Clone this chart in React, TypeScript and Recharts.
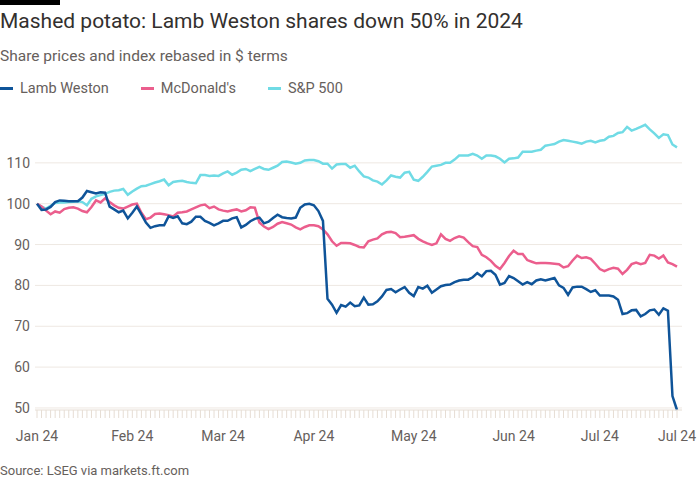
import React from 'react';
import { LineChart, Line, XAxis, YAxis, CartesianGrid } from 'recharts';

// Trading days, Jan 2 to Jul 25 2024
const dates = [
  '01-02', '01-03', '01-04', '01-05', '01-08', '01-09', '01-10', '01-11', '01-12', '01-16',
  '01-17', '01-18', '01-19', '01-22', '01-23', '01-24', '01-25', '01-26', '01-29', '01-30',
  '01-31', '02-01', '02-02', '02-05', '02-06', '02-07', '02-08', '02-09', '02-12', '02-13',
  '02-14', '02-15', '02-16', '02-20', '02-21', '02-22', '02-23', '02-26', '02-27', '02-28',
  '02-29', '03-01', '03-04', '03-05', '03-06', '03-07', '03-08', '03-11', '03-12', '03-13',
  '03-14', '03-15', '03-18', '03-19', '03-20', '03-21', '03-22', '03-25', '03-26', '03-27',
  '03-28', '04-01', '04-02', '04-03', '04-04', '04-05', '04-08', '04-09', '04-10', '04-11',
  '04-12', '04-15', '04-16', '04-17', '04-18', '04-19', '04-22', '04-23', '04-24', '04-25',
  '04-26', '04-29', '04-30', '05-01', '05-02', '05-03', '05-06', '05-07', '05-08', '05-09',
  '05-10', '05-13', '05-14', '05-15', '05-16', '05-17', '05-20', '05-21', '05-22', '05-23',
  '05-24', '05-28', '05-29', '05-30', '05-31', '06-03', '06-04', '06-05', '06-06', '06-07',
  '06-10', '06-11', '06-12', '06-13', '06-14', '06-17', '06-18', '06-20', '06-21', '06-24',
  '06-25', '06-26', '06-27', '06-28', '07-01', '07-02', '07-03', '07-05', '07-08', '07-09',
  '07-10', '07-11', '07-12', '07-15', '07-16', '07-17', '07-18', '07-19', '07-22', '07-23',
  '07-24', '07-25',
];

const lambWeston = [
  100, 98.5, 98.6, 99.2, 100.4, 100.8, 100.7, 100.6, 100.6, 100.6,
  101.5, 103.1, 102.8, 102.5, 102.8, 102.7, 99.3, 98.6, 97.9, 98.3,
  96.4, 97.8, 99.3, 97.4, 95.4, 94.1, 94.5, 94.7, 94.7, 96.9,
  96.5, 96.9, 95.2, 95, 95.6, 96.8, 96.8, 95.8, 95.3, 94.7,
  95.2, 95.8, 95.8, 96.4, 96.7, 94.2, 94.8, 95.7, 96.3, 96.6,
  95.2, 95.6, 96.5, 97.3, 96.7, 96.5, 96.4, 96.6, 99, 99.8,
  100, 99.6, 98.2, 95.8, 76.7, 75.3, 73.3, 75.2, 74.8, 75.8,
  74.9, 75.1, 77, 75.3, 75.4, 76.1, 77.3, 78.9, 79.1, 78.3,
  79, 79.6, 78.2, 77.4, 79.6, 79.2, 79.9, 78.2, 79, 79.8,
  80.1, 80.2, 80.8, 81.2, 81.4, 81.4, 82, 83, 82.2, 83.5,
  83.6, 82.6, 80.2, 80.6, 82.3, 81.8, 81, 80.2, 80.8, 80.3,
  81.2, 81.5, 81.2, 81.5, 81.8, 80, 79.4, 77.7, 79.5, 79.7,
  79.7, 79.1, 78.4, 78.8, 77.5, 77.5, 77.5, 77.3, 76.5, 73,
  73.2, 73.9, 74, 72.4, 73, 73.9, 74.1, 72.8, 74.4, 73.8,
  52.9, 49.5,
];

const mcdonalds = [
  100, 99.3, 98.3, 97.4, 98.1, 97.8, 98.7, 99, 99.1, 98.8,
  98.2, 97.9, 99.2, 100.8, 100.3, 101.3, 100.4, 99.6, 99, 98.8,
  99.3, 99.8, 100, 97.8, 96.2, 96.6, 97.5, 97.6, 97.4, 97.2,
  96.9, 97.8, 97.9, 98.1, 98.6, 99.1, 99.6, 99.8, 98.9, 99.3,
  98.6, 98.3, 98.1, 98.4, 98.6, 98.1, 98.4, 99.1, 99, 95.4,
  94.4, 93.8, 94.3, 95.1, 95.5, 95.2, 94.9, 94.2, 93.7, 94.3,
  94.7, 94.7, 94.5, 93.7, 92.5, 90.8, 89.7, 90.4, 90.4, 90.3,
  89.9, 89.4, 89.3, 90.8, 91.2, 91.5, 92.5, 93, 93.1, 92.8,
  91.8, 91.9, 92.1, 92.3, 91.4, 90.8, 90.3, 89.9, 90.3, 92.5,
  91.4, 90.9, 91.6, 92, 91.7, 90.6, 89.6, 89.4, 87.5, 86.9,
  86, 84.8, 84, 85.5, 87.2, 88.5, 87.7, 87.7, 86.2, 85.8,
  85.4, 85.5, 85.5, 85.4, 85.3, 85.2, 84.4, 84.7, 86.1, 87.3,
  86.7, 86.9, 86.5, 85.3, 84, 83.5, 84, 84.3, 84.1, 82.8,
  83.8, 85.2, 85.6, 85.2, 85.5, 87.5, 87.3, 86.6, 87.3, 85.6,
  85.2, 84.6,
];

const sp500 = [
  100, 99.3, 98.8, 99.5, 100.2, 100.3, 100.3, 100.4, 100.5, 100.6,
  100.4, 99.6, 101.2, 101.8, 102.1, 102.4, 102.9, 103.2, 103.3, 103.6,
  102.2, 103, 103.7, 104.3, 104.4, 104.8, 105.2, 105.5, 105.9, 104.5,
  105.3, 105.5, 105.6, 105.3, 105.1, 105, 107, 107, 106.8, 106.9,
  106.8, 107.4, 107.9, 107.1, 107.6, 108.3, 108.5, 108, 108.5, 109,
  108.5, 108.3, 108.8, 109.3, 110.2, 110.3, 110.1, 109.8, 110, 110.6,
  110.7, 110.7, 110.4, 109.8, 109.8, 108.6, 109.6, 109.7, 109.7, 108.8,
  109.3, 107.9, 106.7, 106.4, 105.7, 105.4, 104.7, 105.7, 106.9, 106.6,
  106.4, 107.6, 107.8, 105.9, 105.6, 106.6, 107.8, 109.1, 109.3, 109.5,
  110, 110, 110.8, 111.8, 111.8, 111.8, 112.2, 111.8, 111, 111.8,
  111.8, 111.6, 111, 110.1, 111, 111.1, 111.3, 112.7, 112.7, 112.7,
  113, 113.2, 114.2, 114.4, 114.6, 115.2, 115.6, 115.4, 115.2, 115,
  114.7, 115.2, 115.4, 115, 115.4, 115.6, 116.4, 116.6, 117.3, 117.5,
  118.8, 117.9, 118.3, 118.8, 119.3, 118.2, 117.2, 116.1, 117, 116.8,
  114.5, 113.8,
];

const yTicks = [50, 60, 70, 80, 90, 100, 110];

// x-axis labels sit on the first trading day of each month, plus the last day
const monthLabels: Record<string, string> = {
  '01-02': 'Jan 24',
  '02-01': 'Feb 24',
  '03-01': 'Mar 24',
  '04-01': 'Apr 24',
  '05-01': 'May 24',
  '06-03': 'Jun 24',
  '07-01': 'Jul 24',
  '07-25': 'Jul 24',
};

const series = [
  { key: 'lw', name: 'Lamb Weston', color: '#0f5499' },
  { key: 'mcd', name: "McDonald's", color: '#eb5e8d' },
  { key: 'sp', name: 'S&P 500', color: '#70dbe5' },
];

const data = dates.map((d, i) => ({
  date: d,
  lw: lambWeston[i],
  mcd: mcdonalds[i],
  sp: sp500[i],
}));

const FONT = 'Roboto, "Liberation Sans", sans-serif';
const GREY = '#66605c';

const DateTick = (props: any) => {
  const { x, y, payload } = props;
  const label = monthLabels[payload.value];
  return (
    <g>
      <line x1={x} x2={x} y1={y} y2={y + 8} stroke="#e6ddd4" strokeWidth={1} />
      {label && (
        <text x={x} y={y + 31} textAnchor="middle" fill={GREY} fontSize={14} fontFamily={FONT}>
          {label}
        </text>
      )}
    </g>
  );
};

export default function App() {
  return (
    <div style={{ position: 'absolute', left: 0, top: 0, width: 700, height: 500, background: '#fff', fontFamily: FONT }}>
      <div style={{ position: 'absolute', left: 0, top: 0, width: 60, height: 5, background: '#000' }} />
      <LineChart
        width={700}
        height={500}
        data={data}
        margin={{ top: 122, right: 18, bottom: 60, left: 0 }}
        style={{ position: 'absolute', left: 0, top: 0 }}
      >
        <CartesianGrid vertical={false} horizontalValues={yTicks} stroke="#eee8e2" strokeWidth={1} />
        <XAxis
          dataKey="date"
          interval={0}
          tick={<DateTick />}
          tickLine={false}
          axisLine={{ stroke: '#e6ddd4' }}
          tickSize={0}
          tickMargin={0}
          height={30}
          padding={{ left: 2, right: 5 }}
        />
        <YAxis
          domain={[50, 120]}
          ticks={yTicks}
          width={35}
          axisLine={false}
          tickLine={false}
          tickSize={0}
          tickMargin={5}
          tick={{ fill: GREY, fontSize: 14, fontFamily: FONT }}
        />
        <Line dataKey="sp" stroke="#70dbe5" strokeWidth={2.5} dot={false} type="linear" isAnimationActive={false} />
        <Line dataKey="mcd" stroke="#eb5e8d" strokeWidth={2.5} dot={false} type="linear" isAnimationActive={false} />
        <Line dataKey="lw" stroke="#0f5499" strokeWidth={2.5} dot={false} type="linear" isAnimationActive={false} />
      </LineChart>
      <div style={{ position: 'absolute', left: 0, top: 9, fontSize: 21, color: '#33302e', whiteSpace: 'nowrap' }}>
        Mashed potato: Lamb Weston shares down 50% in 2024
      </div>
      <div style={{ position: 'absolute', left: 0, top: 47, fontSize: 15.5, color: GREY, whiteSpace: 'nowrap' }}>
        Share prices and index rebased in $ terms
      </div>
      <div style={{ position: 'absolute', left: 0, top: 80, display: 'flex', fontSize: 14.5, color: GREY, whiteSpace: 'nowrap' }}>
        {series.map((s) => (
          <div key={s.key} style={{ display: 'flex', alignItems: 'center', marginRight: 32 }}>
            <span style={{ display: 'inline-block', width: 13, height: 3, background: s.color, marginRight: 7 }} />
            <span>{s.name}</span>
          </div>
        ))}
      </div>
      <div style={{ position: 'absolute', left: 0, top: 463, fontSize: 13, color: GREY, whiteSpace: 'nowrap' }}>
        Source: LSEG via markets.ft.com
      </div>
    </div>
  );
}
